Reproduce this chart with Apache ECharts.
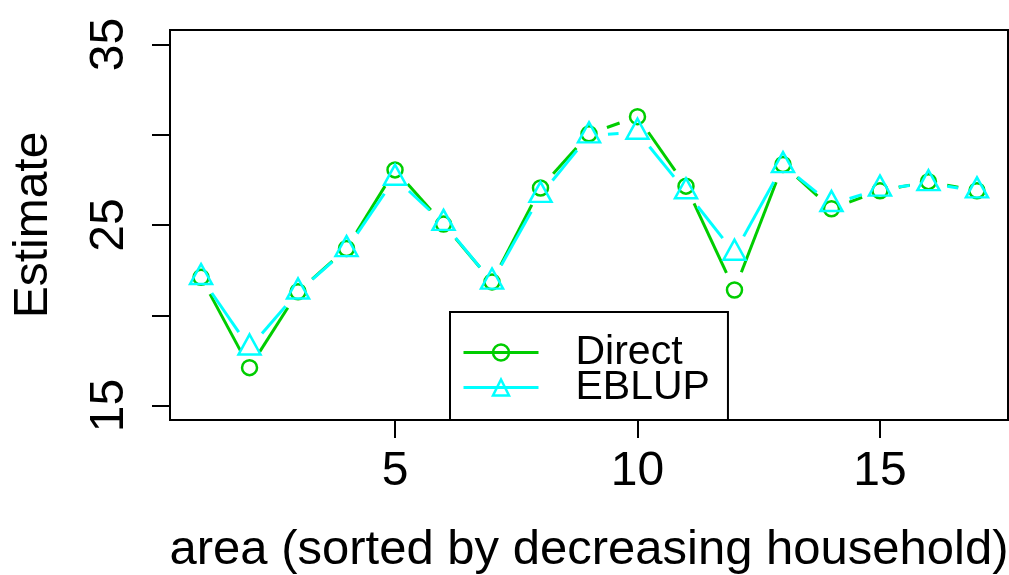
<!DOCTYPE html>
<html>
<head>
<meta charset="utf-8">
<script src="https://cdn.jsdelivr.net/npm/echarts@6/dist/echarts.min.js"></script>
<style>
  html, body { margin: 0; padding: 0; background: #fff; }
  #chart { width: 1009px; height: 575px; }
</style>
</head>
<body>
<div id="chart"></div>
<script>
// Small-area estimates per area, areas sorted by decreasing household count
const areas  = [1, 2, 3, 4, 5, 6, 7, 8, 9, 10, 11, 12, 13, 14, 15, 16, 17];
const direct = [22.1, 17.1, 21.3, 23.7, 28.05, 25.05, 21.85, 27.05, 30.05, 31.0, 27.15, 21.4, 28.35, 25.9, 26.9, 27.4, 26.9];
const eblup  = [22.1, 18.2, 21.3, 23.65, 27.6, 25.1, 21.85, 26.65, 29.95, 30.15, 26.85, 23.45, 28.3, 26.15, 27.0, 27.3, 26.9];

const xTicks  = [5, 10, 15];
const yTicks  = [15, 20, 25, 30, 35];
const yLabels = [15, 25, 35];

const GREEN = '#00CD00';
const CYAN  = '#00FFFF';
const FONT  = '"Liberation Sans", Arial, sans-serif';
const GAP   = 19;   // blank space left around each point by the connecting segments

// Connecting segments that stop short of each point ("both" style plot)
function segments(values, color, z) {
  return {
    type: 'custom',
    z: z,
    silent: true,
    clip: true,
    data: values.slice(0, -1).map((v, i) => [areas[i], v, areas[i + 1], values[i + 1]]),
    encode: { x: [0, 2], y: [1, 3] },
    renderItem: function (params, api) {
      const p0 = api.coord([api.value(0), api.value(1)]);
      const p1 = api.coord([api.value(2), api.value(3)]);
      const dx = p1[0] - p0[0], dy = p1[1] - p0[1];
      const len = Math.hypot(dx, dy);
      if (len <= 2 * GAP) return null;
      const ux = dx / len, uy = dy / len;
      return {
        type: 'line',
        shape: { x1: p0[0] + ux * GAP, y1: p0[1] + uy * GAP, x2: p1[0] - ux * GAP, y2: p1[1] - uy * GAP },
        style: { stroke: color, lineWidth: 3 }
      };
    }
  };
}

function markers(name, values, symbol, size, offset, color, z) {
  return {
    name: name,
    type: 'line',
    z: z,
    data: values.map((v, i) => [areas[i], v]),
    symbol: symbol,
    symbolSize: size,
    symbolOffset: offset,
    showSymbol: true,
    lineStyle: { width: 0, opacity: 0 },
    itemStyle: { color: 'rgba(0,0,0,0)', borderColor: color, borderWidth: 2.5 },
    emphasis: { disabled: true }
  };
}

const chart = echarts.init(document.getElementById('chart'), null, { renderer: 'canvas' });

chart.setOption({
  animation: false,
  backgroundColor: '#fff',
  grid: {
    left: 170, right: 1, top: 30, bottom: 155,
    outerBoundsMode: 'none',
    containLabel: false,
    show: true, borderColor: '#000', borderWidth: 2, backgroundColor: 'transparent'
  },
  xAxis: {
    type: 'value',
    min: 0.36, max: 17.64,
    name: 'area (sorted by decreasing household)',
    nameLocation: 'middle',
    nameGap: 106,
    nameTextStyle: { fontFamily: FONT, fontSize: 49, color: '#000' },
    axisLine: { show: true, onZero: false, lineStyle: { color: '#000', width: 2 } },
    axisTick: { show: true, inside: false, length: 18, customValues: xTicks, lineStyle: { color: '#000', width: 2 } },
    axisLabel: { customValues: xTicks, margin: 28, fontFamily: FONT, fontSize: 48, color: '#000' },
    splitLine: { show: false }
  },
  yAxis: {
    type: 'value',
    min: 14.2, max: 35.8,
    name: 'Estimate',
    nameLocation: 'middle',
    nameGap: 112,
    nameTextStyle: { fontFamily: FONT, fontSize: 48, color: '#000' },
    axisLine: { show: true, onZero: false, lineStyle: { color: '#000', width: 2 } },
    axisTick: { show: true, inside: false, length: 18, customValues: yTicks, lineStyle: { color: '#000', width: 2 } },
    axisLabel: { customValues: yLabels, rotate: 90, margin: 36, fontFamily: FONT, fontSize: 48, color: '#000' },
    splitLine: { show: false }
  },
  legend: {
    orient: 'vertical',
    left: 450, top: 312,
    padding: [20, 18, 12, 12],
    itemGap: -6,
    itemWidth: 75,
    itemHeight: 20,
    selectedMode: false,
    borderColor: '#000',
    borderWidth: 2,
    backgroundColor: '#fff',
    textStyle: { fontFamily: FONT, fontSize: 41, color: '#000', lineHeight: 35, padding: [0, 0, 0, 32] },
    data: [
      { name: 'Direct',
        itemStyle: { color: 'rgba(0,0,0,0)', borderColor: GREEN, borderWidth: 2.5 },
        lineStyle: { color: GREEN, width: 3, opacity: 1, type: 'solid' } },
      { name: 'EBLUP',
        itemStyle: { color: 'rgba(0,0,0,0)', borderColor: CYAN, borderWidth: 2.5 },
        lineStyle: { color: CYAN, width: 3, opacity: 1, type: 'solid' } }
    ]
  },
  series: [
    segments(direct, GREEN, 2),
    markers('Direct', direct, 'circle', 15, [0, 0], GREEN, 3),
    segments(eblup, CYAN, 4),
    markers('EBLUP', eblup, 'triangle', [22, 20], [0, -3.3], CYAN, 5)
  ]
});
</script>
</body>
</html>
